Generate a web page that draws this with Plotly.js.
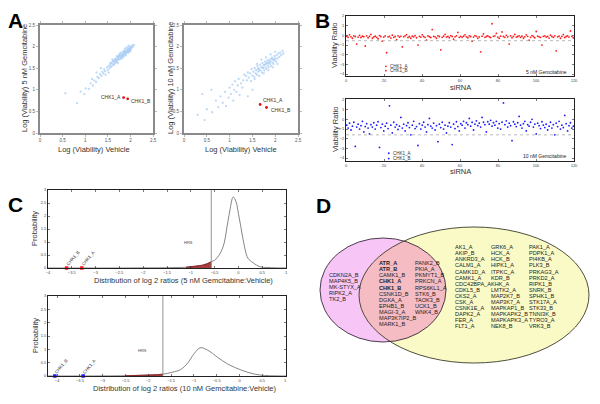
<!DOCTYPE html>
<html>
<head>
<meta charset="utf-8">
<script src="https://cdn.plot.ly/plotly-3.0.1.min.js"></script>
<style>
  html, body { margin: 0; padding: 0; background: #fff; }
  #plot { width: 600px; height: 404px; }
</style>
</head>
<body>
<div id="plot"></div>
<script>
// ==========================================================
// Painel composto A-D : viabilidade siRNA x gencitabina
// ==========================================================

// --- Painel A : log(viabilidade) veículo x gencitabina ---
const a5Vehicle = [0.56,0.82,0.9,0.98,1.01,1.08,1.12,1.17,1.2,1.24,1.27,1.3,1.33,1.36,1.38,1.4,1.42,1.44,
  1.48,1.5,1.52,1.54,1.55,1.57,1.58,1.6,1.61,1.62,1.63,1.64,1.65,1.66,1.67,1.68,1.69,1.7,1.71,1.72,1.73,1.74,
  1.75,1.76,1.77,1.78,1.79,1.8,1.81,1.82,1.83,1.84,1.85,1.86,1.87,1.88,1.89,1.9,1.91,1.92,1.93,1.94,1.95,1.96,
  1.97,1.98,1.99,2.0,2.01,2.02,2.03,2.04,2.06,2.08,
  1.75,1.8,1.85,1.9,1.95,1.88,1.78,1.7,1.66,1.92,1.98,1.83,1.6,1.56,1.96,2.0,1.72,1.86,1.35,1.45,1.25,1.52,1.15];
const a5Gem = [0.92,0.69,0.96,0.9,1.03,1.02,1.15,1.1,1.22,1.18,1.3,1.27,1.36,1.32,1.42,1.38,1.48,1.43,
  1.52,1.46,1.55,1.5,1.58,1.53,1.62,1.56,1.65,1.6,1.68,1.58,1.66,1.62,1.72,1.66,1.7,1.64,1.75,1.69,1.73,1.78,
  1.7,1.76,1.8,1.73,1.78,1.83,1.76,1.8,1.86,1.79,1.84,1.88,1.82,1.86,1.9,1.84,1.88,1.93,1.87,1.91,1.95,1.9,
  1.94,1.98,1.92,1.96,2.0,1.95,1.99,2.03,2.0,2.04,
  1.82,1.72,1.9,1.8,1.86,1.95,1.86,1.78,1.7,1.98,1.88,1.74,1.7,1.62,2.02,1.9,1.62,1.78,1.5,1.35,1.4,1.4,1.25];

const a10Vehicle = [0.3,0.45,0.5,0.62,0.7,0.75,0.8,0.85,0.9,0.92,0.98,1.0,1.03,1.06,1.08,1.1,1.12,1.15,1.18,1.2,
  1.22,1.25,1.28,1.3,1.32,0.6,0.4,1.4,1.5,
  1.36,1.38,1.4,1.42,1.45,1.47,1.48,1.5,1.52,1.54,1.55,1.57,1.58,1.6,1.61,1.63,1.64,1.65,1.67,1.68,1.7,1.71,
  1.72,1.74,1.75,1.76,1.78,1.79,1.8,1.81,1.83,1.84,1.85,1.86,1.88,1.89,1.9,1.91,1.93,1.94,1.95,1.96,1.98,1.99,
  2.0,2.02,2.03,2.05,2.07,2.09,2.11,2.13,2.16,2.18,
  1.7,1.8,1.9,2.0,1.6,1.75,1.85,1.95,2.05,1.55,1.65,1.77,1.87,1.97,1.82,1.92,1.72,1.62];
const a10Gem = [0.42,0.3,0.55,0.48,0.75,0.6,0.85,0.7,0.95,0.62,0.82,1.05,0.9,1.12,0.75,1.0,1.2,0.95,1.1,1.25,
  0.88,1.15,1.05,1.22,1.35,1.0,0.9,0.85,1.0,
  1.32,1.22,1.4,1.28,1.38,1.2,1.48,1.33,1.42,1.3,1.5,1.38,1.45,1.35,1.55,1.42,1.5,1.32,1.58,1.45,1.52,1.4,
  1.62,1.5,1.57,1.45,1.65,1.52,1.6,1.48,1.68,1.56,1.62,1.52,1.7,1.6,1.66,1.55,1.74,1.63,1.7,1.6,1.78,1.68,
  1.73,1.65,1.8,1.72,1.84,1.76,1.86,1.8,1.9,1.84,
  1.7,1.75,1.82,1.88,1.6,1.38,1.45,1.52,1.6,1.25,1.45,1.58,1.65,1.7,1.62,1.72,1.52,1.48];

// CHK1 (A e B) destacados em vermelho
const chkNames = ["CHK1_A", "CHK1_B"];
const chkA5 = { x: [1.85, 1.94], y: [0.82, 0.79] };
const chkA10 = { x: [1.67, 1.81], y: [0.66, 0.59] };

// --- Painel B : razão de viabilidade por siRNA ---
const ratio5 = [
  -0.1,-0.2,0.05,-0.15,-0.3,-0.05,-0.12,-0.9,-0.18,0.0,-0.22,-0.08,-0.14,-1.1,-0.05,-0.25,-0.1,0.1,-0.3,-0.16,
  -0.08,-0.2,-0.35,-0.02,-0.12,-0.6,-0.18,-0.06,-1.8,-0.15,-0.1,-0.28,0.02,-0.2,-0.12,-0.45,-0.05,-0.18,-0.1,-1.2,
  -0.15,-0.05,0.08,-0.22,-0.12,-0.3,-0.08,-0.15,-0.02,-0.25,-1.0,-0.1,-0.18,0.05,-0.12,-0.2,-0.5,-0.06,-0.14,-0.22,
  0.6,-0.1,-0.15,-0.3,-0.05,-0.12,-1.5,-0.2,-0.08,0.1,-0.18,-0.1,-0.25,-0.02,-0.12,-0.4,-0.15,-0.05,0.3,-0.2,
  -0.1,-0.2,-0.08,0.05,-0.15,-0.25,-0.05,-0.12,-0.6,-0.18,-0.02,-0.1,-0.3,-0.15,-1.7,-0.08,0.15,-0.2,-0.12,-0.05,
  -0.15,-0.22,1.2,-0.1,-0.05,0.2,-0.18,-0.3,-0.08,0.35,-0.12,-0.2,0.0,-0.15,-0.9,-0.05,-0.25,-0.1,0.1,-0.18,
  -0.12,-0.05,-0.2,-0.08,-0.3,-0.15,0.05,-0.1,-0.5,-0.2,-0.02,-0.12,-0.25,0.4,-0.08,-0.15,-0.2,-1.0,-0.1,-0.05,
  -0.18,-0.1,-0.28,0.02,-0.12,-0.2,-0.05,-1.6,-0.15,-0.08,-0.3,-0.1,0.08,-0.22,-0.12,-0.05,-0.18,0.45,-0.1,-0.25];
const ratio10 = [
  -0.6,-0.9,-0.4,-1.1,-0.7,-0.3,-2.8,-0.8,-0.5,-1.0,-0.65,-0.2,-1.3,-0.75,-0.45,-0.9,-1.5,-0.55,-0.8,-0.35,
  -1.0,-0.6,-0.25,-2.9,-0.85,-0.5,-1.2,-0.7,-0.4,-0.95,1.4,-0.6,-1.4,-0.3,-0.8,-0.55,-1.05,-0.7,0.2,-0.9,
  -0.5,-1.2,-0.65,-0.35,-0.85,-1.6,-0.6,-0.2,-0.95,-0.75,-2.7,-0.45,-1.0,-0.6,-0.3,-0.8,-1.3,-0.55,0.1,-0.7,
  -0.9,-0.4,-1.1,-0.65,-2.3,-0.5,-0.85,-0.3,-1.0,-0.6,-1.4,-0.7,-0.35,-0.8,-2.6,-0.5,-0.95,-0.25,-0.75,-1.2,
  -0.45,-0.6,-0.2,-0.9,-0.35,-0.55,0.1,-0.7,-0.3,-1.1,-0.5,-0.15,-0.65,-0.4,-0.8,0.2,-0.3,-0.55,-1.3,-0.25,
  -0.5,-0.1,-0.7,-0.35,-0.6,-0.2,-0.9,-0.45,-1.0,-0.3,1.7,-0.55,-0.15,-0.8,-0.4,-0.65,-2.2,-0.25,-0.5,-0.75,
  -0.35,0.3,-0.6,-0.9,-0.45,-0.2,-1.2,-0.55,-0.7,-0.3,0.0,-0.8,-0.5,-1.5,-0.4,-0.65,-0.95,-0.25,-0.6,-0.85,
  -0.5,-1.1,-0.7,-0.3,-0.9,-0.55,-1.6,-0.4,-0.75,-0.2,-1.0,-0.6,-0.85,0.4,-0.45,-1.2,-0.65,-0.35,-0.9,-0.7];
const siRNACount = 120;
const chkB5 = { x: [21, 21], y: [-3.2, -3.65] };
const chkB10 = { x: [22.5, 22.5], y: [-3.5, -4.05] };
const cutB = [-0.55, -1.6];

// --- Painel C : distribuição dos log2 ratios ---
const distX5 = [-4,-2.5,-2,-1.5,-1.1,-0.9,-0.75,-0.65,-0.57,-0.5,-0.39,-0.3,-0.25,-0.18,-0.11,-0.05,0,0.05,0.1,0.2,0.31,0.45,0.6,0.8,1];
const distY5 = [0,0,0.005,0.01,0.03,0.06,0.11,0.17,0.24,0.3,0.54,0.95,1.46,2.2,2.73,2.55,2.1,1.6,1.08,0.38,0.2,0.05,0.02,0.005,0];
const distX10 = [-4.2,-3,-2.5,-2.2,-2,-1.8,-1.68,-1.58,-1.43,-1.29,-1.14,-0.99,-0.86,-0.7,-0.48,-0.26,0.04,0.33,0.55,0.8,1.02];
const distY10 = [0,0.002,0.01,0.02,0.035,0.05,0.07,0.1,0.16,0.24,0.48,0.85,1.06,0.97,0.7,0.45,0.22,0.07,0.02,0.005,0];
const hrsCut = [-0.57, -1.68];
const hrsStart = [-1.1, -2.5];
const chkC5 = [-3.61, -3.29];   // CHK1_B, CHK1_A
const chkC10 = [-4.05, -3.43];

// --- Painel D : listas do diagrama de Venn ---
const vennLeft = ["CDKN2A_B","MAP4K5_B","MK-STYX_A","RIPK2_A","TK2_B"];
const vennMid1 = ["ATR_A","ATR_B","CAMK1_B","CHK1_A","CHK1_B","CSNK1D_B","DGKA_A","EPHB1_B","MAGI-3_A","MAP3K7IP2_B","MARK1_B"];
const vennMid2 = ["PANK2_B","PKIA_A","PKMYT1_B","PRKCN_A","RPS6KL1_A","STK6_B","TAOK3_B","UCK1_B","WNK4_B"];
const vennBold = ["ATR_A","ATR_B","CHK1_A","CHK1_B"];
const vennRight1 = ["AK1_A","AKIP_B","ANKRD3_A","CALM1_A","CAMK1D_A","CAMK1_A","CDC42BPA_A","CDKL5_B","CKS2_A","CSK_A","CSNK1E_A","DAPK2_A","FER_A","FLT1_A"];
const vennRight2 = ["GRK6_A","HCK_A","HCK_B","HIPK1_A","ITPKC_A","KDR_B","KHK_A","LMTK2_A","MAP2K7_B","MAP3K7_A","MAPKAP1_B","MAPKAPK2_B","MAPKAPK3_A","NEK8_B"];
const vennRight3 = ["PAK1_A","PDPK1_A","PI4KB_A","PLK3_B","PRKAG3_A","PRKD2_A","RIPK1_B","SNRK_B","SPHK1_B","STK17A_A","STK33_B","TNNI3K_B","TYRO3_A","VRK3_B"];

// ==========================================================
const W = 600, H = 404;
const FONT = "Liberation Sans, Arial, sans-serif";
const px = (x) => x / W;
const py = (y) => 1 - y / H;
const dom = (a, b) => [a / W, b / W];
const domY = (top, bottom) => [1 - bottom / H, 1 - top / H];

const annotations = [];
function addText(x, y, text, opts = {}) {
  annotations.push(Object.assign({
    xref: "paper", yref: "paper", x: px(x), y: py(y), text: text,
    showarrow: false, xanchor: "center", yanchor: "middle",
    font: { family: FONT, size: 7, color: "#222" },
  }, opts));
}

function axisStyle(domain, range, extra = {}) {
  return Object.assign({
    domain: domain, range: range, showgrid: false, zeroline: false,
    showline: true, mirror: "ticks", linecolor: "#222", linewidth: 1,
    ticks: "inside", ticklen: 2, tickwidth: 0.6, tickcolor: "#222",
    tickfont: { family: FONT, size: 4, color: "#444" },
  }, extra);
}

const traces = [];
const shapes = [];

// ---------- Painel A ----------
const aFrame = { linecolor: "#8a8a8a", linewidth: 2, ticks: "outside", ticklen: 2, tickcolor: "#8a8a8a",
  tickvals: [0, 0.5, 1, 1.5, 2, 2.5], ticktext: ["0", "0.5", "1", "1.5", "2", "2.5"],
  tickfont: { family: FONT, size: 4.5, color: "#555" } };
const layout = {
  width: W, height: H, margin: { l: 0, r: 0, t: 0, b: 0 },
  paper_bgcolor: "#fff", plot_bgcolor: "rgba(0,0,0,0)", showlegend: false,
  xaxis: axisStyle(dom(40, 153), [0, 2.5], Object.assign({ anchor: "y" }, aFrame)),
  yaxis: axisStyle(domY(25, 133), [0, 2.5], Object.assign({ anchor: "x" }, aFrame)),
  xaxis2: axisStyle(dom(184, 298), [0, 2.5], Object.assign({ anchor: "y2" }, aFrame)),
  yaxis2: axisStyle(domY(25, 133), [0, 2.5], Object.assign({ anchor: "x2" }, aFrame)),
  xaxis3: axisStyle(dom(346, 574), [0, 120], { anchor: "y3", dtick: 20 }),
  yaxis3: axisStyle(domY(16, 76), [-4.2, 2], { anchor: "x3", dtick: 1 }),
  xaxis4: axisStyle(dom(346, 574), [0, 120], { anchor: "y4", dtick: 20 }),
  yaxis4: axisStyle(domY(99, 161), [-4.3, 2.1], { anchor: "x4", dtick: 1 }),
  xaxis5: axisStyle(dom(48, 286), [-4, 1], { anchor: "y5", dtick: 0.5 }),
  yaxis5: axisStyle(domY(190, 268), [0, 3], { anchor: "x5", dtick: 0.5 }),
  xaxis6: axisStyle(dom(48, 286), [-4.2, 1.02], { anchor: "y6", dtick: 0.5 }),
  yaxis6: axisStyle(domY(296, 376), [0, 3], { anchor: "x6", dtick: 0.5 }),
};

function scatterA(xs, ys, xa, ya) {
  traces.push({ x: xs, y: ys, xaxis: xa, yaxis: ya, type: "scatter", mode: "markers",
    marker: { color: "#a3c9f3", size: 2.3, opacity: 0.7 }, hoverinfo: "none" });
}
scatterA(a5Vehicle, a5Gem, "x", "y");
scatterA(a10Vehicle, a10Gem, "x2", "y2");
[[chkA5, "x", "y"], [chkA10, "x2", "y2"]].forEach(([c, xa, ya]) => {
  traces.push({ x: c.x, y: c.y, xaxis: xa, yaxis: ya, type: "scatter", mode: "markers",
    marker: { color: "#e01010", size: 2.8 }, hoverinfo: "none" });
});
const small = { family: FONT, size: 5, color: "#333" };
annotations.push({ xref: "x", yref: "y", x: chkA5.x[0], y: chkA5.y[0], text: chkNames[0], showarrow: false,
  xanchor: "right", xshift: -1, yshift: 1, font: small });
annotations.push({ xref: "x", yref: "y", x: chkA5.x[1], y: chkA5.y[1], text: chkNames[1], showarrow: false,
  xanchor: "left", xshift: 1, yshift: -2, font: small });
annotations.push({ xref: "x2", yref: "y2", x: chkA10.x[0], y: chkA10.y[0], text: chkNames[0], showarrow: false,
  xanchor: "left", xshift: 1, yshift: 4, font: small });
annotations.push({ xref: "x2", yref: "y2", x: chkA10.x[1], y: chkA10.y[1], text: chkNames[1], showarrow: false,
  xanchor: "left", xshift: 2, yshift: -2, font: small });

// ---------- Painel B ----------
function scatterB(vals, color, xa, ya, chk, cut) {
  traces.push({ x: vals.map((_, i) => (i + 0.5) * siRNACount / vals.length), y: vals, xaxis: xa, yaxis: ya,
    type: "scatter", mode: "markers", marker: { color: color, size: 1.8 }, hoverinfo: "none" });
  traces.push({ x: chk.x, y: chk.y, xaxis: xa, yaxis: ya, type: "scatter", mode: "markers",
    marker: { color: color, size: 1.8 }, hoverinfo: "none" });
  shapes.push({ type: "line", xref: xa, yref: ya, x0: 0, x1: siRNACount, y0: cut, y1: cut,
    line: { color: "#aaa", width: 0.8, dash: "dot" } });
  chk.x.forEach((x, i) => {
    annotations.push({ xref: xa, yref: ya, x: x, y: chk.y[i], text: chkNames[i], showarrow: false,
      xanchor: "left", xshift: 2, font: { family: FONT, size: 4.5, color: "#333" } });
  });
}
scatterB(ratio5, "#ff1a1a", "x3", "y3", chkB5, cutB[0]);
scatterB(ratio10, "#1a1aff", "x4", "y4", chkB10, cutB[1]);
addText(569, 72, "5 nM Gemcitabine", { xanchor: "right", font: { family: FONT, size: 5, color: "#222" } });
addText(569, 156, "10 nM Gemcitabine", { xanchor: "right", font: { family: FONT, size: 5, color: "#222" } });

// ---------- Painel C ----------
function distPanel(xs, ys, xa, ya, cut, start, chk, color) {
  traces.push({ x: xs, y: ys, xaxis: xa, yaxis: ya, type: "scatter", mode: "lines",
    line: { color: "#777", width: 0.9, shape: "spline" }, hoverinfo: "none" });
  const fx = [], fy = [];
  xs.forEach((x, i) => { if (x >= start && x <= cut) { fx.push(x); fy.push(ys[i]); } });
  traces.push({ x: fx, y: fy, xaxis: xa, yaxis: ya, type: "scatter", mode: "lines", fill: "tozeroy",
    fillcolor: "rgba(150,30,30,0.85)", line: { color: "#8b1a1a", width: 0.8 }, hoverinfo: "none" });
  shapes.push({ type: "line", xref: xa, yref: ya, x0: cut, x1: cut, y0: 0, y1: 3,
    line: { color: "#888", width: 0.9 } });
  traces.push({ x: chk, y: chk.map(() => 0), xaxis: xa, yaxis: ya, type: "scatter", mode: "markers",
    marker: { color: color, size: 3.5, symbol: "square" }, cliponaxis: false, hoverinfo: "none" });
  const labels = ["CHK1_B", "CHK1_A"];
  chk.forEach((x, i) => {
    annotations.push({ xref: xa, yref: ya, x: x, y: 0, text: labels[i], showarrow: false, textangle: -50,
      xshift: 6, yshift: 10, font: { family: FONT, size: 4.5, color: "#333" } });
  });
}
distPanel(distX5, distY5, "x5", "y5", hrsCut[0], hrsStart[0], chkC5, "#ff1a1a");
distPanel(distX10, distY10, "x6", "y6", hrsCut[1], hrsStart[1], chkC10, "#1a1aff");
annotations.push({ xref: "x5", yref: "y5", x: -1.04, y: 1.0, text: "HRS", showarrow: false,
  font: { family: FONT, size: 4, color: "#444" } });
annotations.push({ xref: "x6", yref: "y6", x: -2.13, y: 0.97, text: "HRS", showarrow: false,
  font: { family: FONT, size: 4, color: "#444" } });

// ---------- Títulos e letras dos painéis ----------
const titleFont = { family: FONT, size: 7.5, color: "#333" };
addText(94, 149, "Log (Viability) Vehicle", { font: titleFont });
addText(241, 149, "Log (Viability) Vehicle", { font: titleFont });
addText(25, 78, "Log (Viability) 5 nM Gemcitabine", { textangle: -90, font: titleFont });
addText(171, 78, "Log (Viability) 10 nM Gemcitabine", { textangle: -90, font: titleFont });
addText(335, 46, "Viability Ratio", { textangle: -90, font: titleFont });
addText(335, 130, "Viability Ratio", { textangle: -90, font: titleFont });
addText(460, 88, "siRNA", { font: titleFont });
addText(460, 172, "siRNA", { font: titleFont });
addText(35, 229, "Probability", { textangle: -90, font: titleFont });
addText(35, 336, "Probability", { textangle: -90, font: titleFont });
addText(183, 280, "Distribution of log 2 ratios (5 nM Gemcitabine:Vehicle)", { font: titleFont });
addText(185, 388, "Distribution of log 2 ratios (10 nM Gemcitabine:Vehicle)", { font: titleFont });

const letterFont = { family: FONT, size: 21, color: "#000", weight: 700 };
addText(15, 20, "<b>A</b>", { font: letterFont });
addText(322, 20, "<b>B</b>", { font: letterFont });
addText(15, 204, "<b>C</b>", { font: letterFont });
addText(323, 205, "<b>D</b>", { font: letterFont });

// ---------- Painel D : Venn ----------
const pink = { cx: 383, cy: 290, rx: 63, ry: 52 };
const yellow = { cx: 474, cy: 295, rx: 115, ry: 68 };

function ellipsePts(e, n) {
  return Array.from({ length: n }, (_, i) => {
    const t = (2 * Math.PI * i) / n;
    return [e.cx + e.rx * Math.cos(t), e.cy + e.ry * Math.sin(t)];
  });
}
const inside = (p, e) => ((p[0] - e.cx) / e.rx) ** 2 + ((p[1] - e.cy) / e.ry) ** 2 <= 1;
const ellipseShape = (e, fill, line) => ({
  type: "circle", xref: "paper", yref: "paper", layer: "below",
  x0: px(e.cx - e.rx), x1: px(e.cx + e.rx), y0: py(e.cy + e.ry), y1: py(e.cy - e.ry),
  fillcolor: fill, line: line,
});
shapes.push(ellipseShape(pink, "#f7c6f7", { width: 0 }));
shapes.push(ellipseShape(yellow, "#fafac6", { width: 0 }));

// intersecção (região convexa) ordenada pelo ângulo
let lens = ellipsePts(pink, 360).filter((p) => inside(p, yellow))
  .concat(ellipsePts(yellow, 360).filter((p) => inside(p, pink)));
const cxL = lens.reduce((s, p) => s + p[0], 0) / lens.length;
const cyL = lens.reduce((s, p) => s + p[1], 0) / lens.length;
lens.sort((p, q) => Math.atan2(p[1] - cyL, p[0] - cxL) - Math.atan2(q[1] - cyL, q[0] - cxL));
const lensPath = "M " + lens.map((p) => px(p[0]).toFixed(5) + "," + py(p[1]).toFixed(5)).join(" L ") + " Z";
shapes.push({ type: "path", xref: "paper", yref: "paper", layer: "below", path: lensPath,
  fillcolor: "#f6bcc4", line: { width: 0 } });
shapes.push(ellipseShape(pink, "rgba(0,0,0,0)", { color: "#3a2a3a", width: 0.9 }));
shapes.push(ellipseShape(yellow, "rgba(0,0,0,0)", { color: "#3a3a2a", width: 0.9 }));

const vennFont = { family: FONT, size: 5.6, color: "#222" };
function vennColumn(list, x, y0) {
  list.forEach((name, i) => {
    const txt = vennBold.includes(name) ? "<b>" + name + "</b>" : name;
    addText(x, y0 + i * 6.05, txt, { xanchor: "left", font: vennFont });
  });
}
vennColumn(vennLeft, 327, 275);
vennColumn(vennMid1, 377, 263.3);
vennColumn(vennMid2, 413, 263.3);
vennColumn(vennRight1, 453, 247.3);
vennColumn(vennRight2, 489, 247.3);
vennColumn(vennRight3, 527, 247.3);

layout.annotations = annotations;
layout.shapes = shapes;

Plotly.newPlot("plot", traces, layout, { staticPlot: true, displayModeBar: false });
</script>
</body>
</html>
